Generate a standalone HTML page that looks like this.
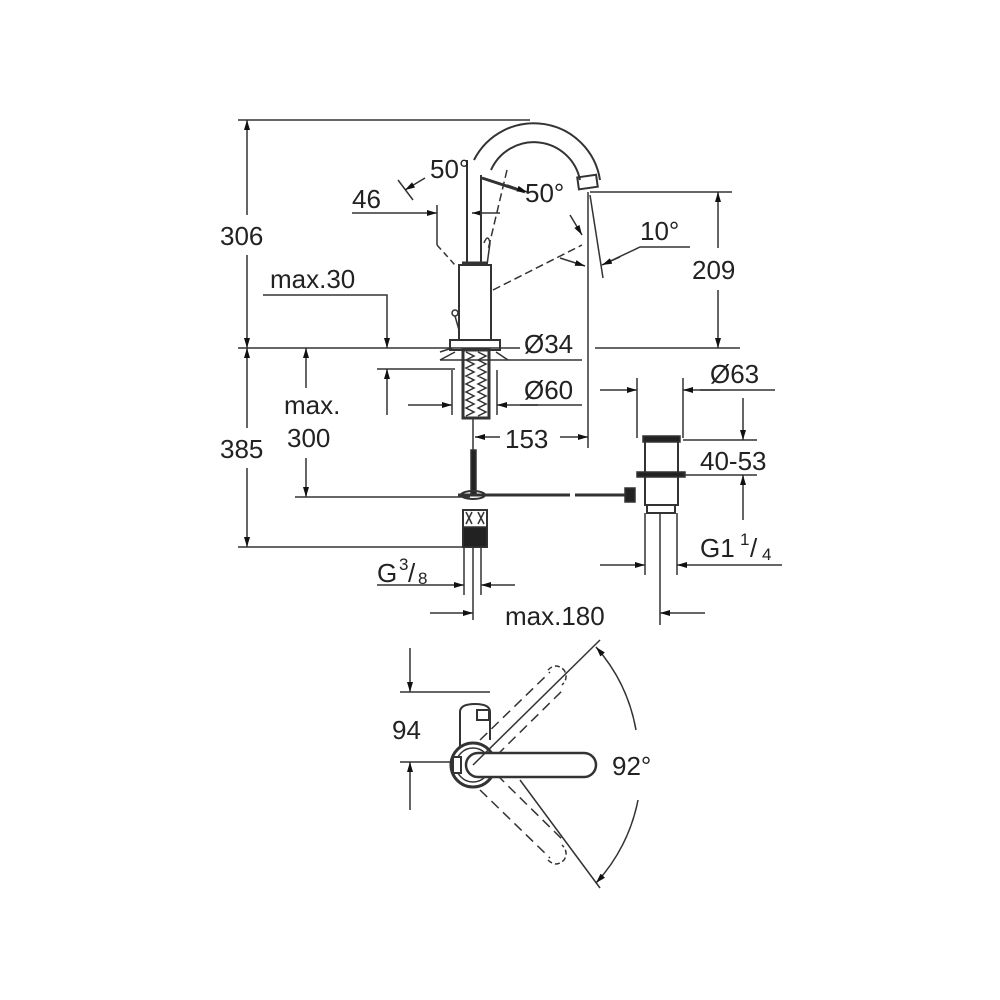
<!DOCTYPE html>
<html><head><meta charset="utf-8"><style>
html,body{margin:0;padding:0;background:#fff}
svg{display:block}
text{font-family:"Liberation Sans",sans-serif;font-size:26px;fill:#222}
</style></head><body>
<svg width="1000" height="1000" viewBox="0 0 1000 1000" xmlns="http://www.w3.org/2000/svg">
<defs>
<marker id="a" viewBox="0 0 10 6" refX="10" refY="3" markerWidth="10" markerHeight="6" orient="auto-start-reverse" markerUnits="userSpaceOnUse"><path d="M0,0L10,3L0,6z" fill="#111"/></marker>
</defs>
<g stroke="#333" stroke-width="1.5" fill="none">
<line x1="238" y1="120" x2="530" y2="120"/>
<line x1="247" y1="255" x2="247" y2="348" marker-end="url(#a)"/>
<line x1="247" y1="215" x2="247" y2="120" marker-end="url(#a)"/>
<line x1="238" y1="348" x2="520" y2="348"/>
<line x1="595" y1="348" x2="740" y2="348"/>
<line x1="247" y1="348" x2="247" y2="428" marker-start="url(#a)"/>
<line x1="247" y1="468" x2="247" y2="547" marker-end="url(#a)"/>
<line x1="238" y1="547" x2="470" y2="547"/>
<line x1="306" y1="388" x2="306" y2="348" marker-end="url(#a)"/>
<line x1="306" y1="458" x2="306" y2="497" marker-end="url(#a)"/>
<line x1="295" y1="497" x2="470" y2="497"/>
<polyline points="263,295 387,295 387,348" marker-end="url(#a)"/>
<line x1="377" y1="369" x2="455" y2="369"/>
<line x1="387" y1="415" x2="387" y2="369" marker-end="url(#a)"/>
<line x1="408" y1="405" x2="452" y2="405" marker-end="url(#a)"/>
<line x1="452" y1="370" x2="452" y2="415"/>
<line x1="497" y1="370" x2="497" y2="415"/>
<line x1="538" y1="405" x2="497" y2="405" marker-end="url(#a)"/>
<line x1="520" y1="405" x2="582" y2="405"/>
<line x1="440" y1="360" x2="582" y2="360"/>
<line x1="588" y1="192" x2="588" y2="448"/>
<line x1="500" y1="437" x2="475" y2="437" marker-end="url(#a)"/>
<line x1="560" y1="437" x2="588" y2="437" marker-end="url(#a)"/>
<line x1="590" y1="192" x2="732" y2="192"/>
<line x1="718" y1="248" x2="718" y2="192" marker-end="url(#a)"/>
<line x1="718" y1="290" x2="718" y2="348" marker-end="url(#a)"/>
<line x1="590" y1="195" x2="603" y2="278"/>
<polyline points="690,247 640,247 602,265" />
<line x1="620" y1="257" x2="602" y2="265" marker-end="url(#a)"/>
<line x1="352" y1="213" x2="437" y2="213" marker-end="url(#a)"/>
<line x1="437" y1="205" x2="437" y2="245"/>
<line x1="500" y1="213" x2="472" y2="213" marker-end="url(#a)"/>
<line x1="398" y1="180" x2="413" y2="200"/>
<line x1="425" y1="178" x2="405" y2="190" marker-end="url(#a)"/>
<line x1="482" y1="178" x2="525" y2="192" stroke-width="3"/>
<line x1="507" y1="185" x2="527" y2="192" marker-end="url(#a)"/>
<line x1="570" y1="215" x2="582" y2="235" marker-end="url(#a)"/>
<line x1="560" y1="258" x2="585" y2="266" marker-end="url(#a)"/>
<path d="M507,170 L488,250" stroke-dasharray="8,4"/>
<path d="M437,245 L455,265" stroke-dasharray="6,4"/>
<path d="M493,290 L582,245" stroke-dasharray="8,4"/>
<rect x="459" y="265" width="32" height="75" stroke-width="2"/>
<line x1="467" y1="160" x2="467" y2="263" stroke-width="2"/>
<line x1="481" y1="175" x2="481" y2="263" stroke-width="2"/>
<line x1="462" y1="263" x2="488" y2="263" stroke-width="3"/>
<path d="M474,160 A67,67 0 0 1 600,180" stroke-width="2"/>
<path d="M491,170 A47,47 0 0 1 580,180" stroke-width="2"/>
<rect x="578" y="176" width="19" height="12" stroke-width="2" transform="rotate(-8 588 182)"/>
<path d="M484,243 q4,-10 6,0 l-3,22" stroke-width="1.5"/>
<circle cx="455" cy="313" r="3"/>
<line x1="455" y1="316" x2="459" y2="330"/>
<rect x="450" y="340" width="50" height="10" stroke-width="2"/>
<rect x="463" y="350" width="26" height="68" stroke-width="3"/>
<path d="M466,352 l8,4 -8,4 8,4 -8,4 8,4 -8,4 8,4 -8,4 8,4 -8,4 8,4 -8,4 8,4 -8,4 8,4 -8,4 M478,352 l8,4 -8,4 8,4 -8,4 8,4 -8,4 8,4 -8,4 8,4 -8,4 8,4 -8,4 8,4 -8,4 8,4 -8,4"/>
<path d="M440,352 l12,-4 M440,360 l15,-8 M496,352 l12,8" />
<line x1="473" y1="418" x2="473" y2="450"/>
<rect x="471" y="450" width="5" height="45" fill="#222"/>
<line x1="458" y1="495" x2="570" y2="495" stroke-width="3"/>
<line x1="575" y1="495" x2="628" y2="495" stroke-width="3"/>
<ellipse cx="473" cy="495" rx="12" ry="4" stroke-width="2"/>
<rect x="463" y="510" width="24" height="37" stroke-width="2"/>
<path d="M466,512 l6,12 M472,512 l-6,12 M478,512 l6,12 M484,512 l-6,12"/>
<rect x="463" y="527" width="24" height="20" fill="#222"/>
<line x1="464" y1="547" x2="464" y2="595"/>
<line x1="481" y1="547" x2="481" y2="595"/>
<line x1="473" y1="547" x2="473" y2="620"/>
<line x1="432" y1="585" x2="464" y2="585" marker-end="url(#a)"/>
<line x1="515" y1="585" x2="481" y2="585" marker-end="url(#a)"/>
<line x1="377" y1="585" x2="432" y2="585"/>
<line x1="430" y1="613" x2="473" y2="613" marker-end="url(#a)"/>
<line x1="705" y1="613" x2="660" y2="613" marker-end="url(#a)"/>
<rect x="625" y="488" width="10" height="14" fill="#222"/>
<rect x="645" y="440" width="33" height="65" stroke-width="2"/>
<rect x="643" y="436" width="37" height="6" fill="#222"/>
<rect x="637" y="472" width="48" height="5" fill="#222"/>
<rect x="647" y="505" width="28" height="8" stroke-width="2"/>
<line x1="645" y1="513" x2="645" y2="575"/>
<line x1="677" y1="513" x2="677" y2="575"/>
<line x1="660" y1="513" x2="660" y2="625"/>
<line x1="637" y1="378" x2="637" y2="438"/>
<line x1="683" y1="378" x2="683" y2="438"/>
<line x1="600" y1="390" x2="637" y2="390" marker-end="url(#a)"/>
<line x1="720" y1="390" x2="683" y2="390" marker-end="url(#a)"/>
<line x1="700" y1="390" x2="775" y2="390"/>
<line x1="683" y1="440" x2="757" y2="440"/>
<line x1="683" y1="475" x2="757" y2="475"/>
<line x1="743" y1="398" x2="743" y2="440" marker-end="url(#a)"/>
<line x1="743" y1="520" x2="743" y2="475" marker-end="url(#a)"/>
<line x1="600" y1="565" x2="645" y2="565" marker-end="url(#a)"/>
<line x1="782" y1="565" x2="677" y2="565" marker-end="url(#a)"/>
<line x1="410" y1="648" x2="410" y2="692" marker-end="url(#a)"/>
<line x1="400" y1="692" x2="490" y2="692"/>
<line x1="400" y1="762" x2="460" y2="762"/>
<line x1="410" y1="810" x2="410" y2="762" marker-end="url(#a)"/>
<path d="M460,750 V712 q0,-8 15,-8 q15,0 15,8 V740" stroke-width="2"/>
<rect x="477" y="710" width="12" height="10" stroke-width="2"/>
<path d="M480,740 L550,672 M497,755 L565,688" stroke-dasharray="10,6"/>
<path d="M480,790 L550,858 M497,775 L565,842" stroke-dasharray="10,6"/>
<path d="M548,670 q8,-8 16,0 q5,8 -2,15 M548,860 q8,8 16,0 q5,-8 -2,-15" stroke-dasharray="5,3"/>
<circle cx="473" cy="765" r="22" stroke-width="3" fill="#fff"/>
<circle cx="473" cy="765" r="17" stroke-width="1.5"/>
<rect x="453" y="757" width="8" height="16" stroke-width="2" fill="#fff"/>
<path d="M478,753 H584 A12,12 0 0 1 584,777 H478 A12,12 0 0 1 478,753 Z" stroke-width="2.5" fill="#fff"/>
<line x1="473" y1="765" x2="600" y2="640"/>
<line x1="520" y1="780" x2="600" y2="888"/>
<path d="M596,647 A170,170 0 0 1 636,730" marker-start="url(#a)"/>
<path d="M638,800 A170,170 0 0 1 596,883" marker-end="url(#a)"/>
</g>
<text x="220" y="245">306</text>
<text x="692" y="279">209</text>
<text x="220" y="458">385</text>
<text x="284" y="414">max.</text>
<text x="287" y="447">300</text>
<text x="270" y="288">max.30</text>
<text x="352" y="208">46</text>
<text x="430" y="178">50°</text>
<text x="525" y="202">50°</text>
<text x="640" y="240">10°</text>
<text x="524" y="353">Ø34</text>
<text x="524" y="399">Ø60</text>
<text x="505" y="448">153</text>
<text x="710" y="383">Ø63</text>
<text x="700" y="470">40-53</text>
<text x="700" y="557">G1</text><text x="740" y="545" style="font-size:17px">1</text><text x="750" y="557">/</text><text x="762" y="560" style="font-size:17px">4</text>
<text x="377" y="582">G</text><text x="399" y="570" style="font-size:17px">3</text><text x="408" y="582">/</text><text x="418" y="584" style="font-size:17px">8</text>
<text x="505" y="625">max.180</text>
<text x="392" y="739">94</text>
<text x="612" y="775">92°</text>
</svg>
</body></html>
